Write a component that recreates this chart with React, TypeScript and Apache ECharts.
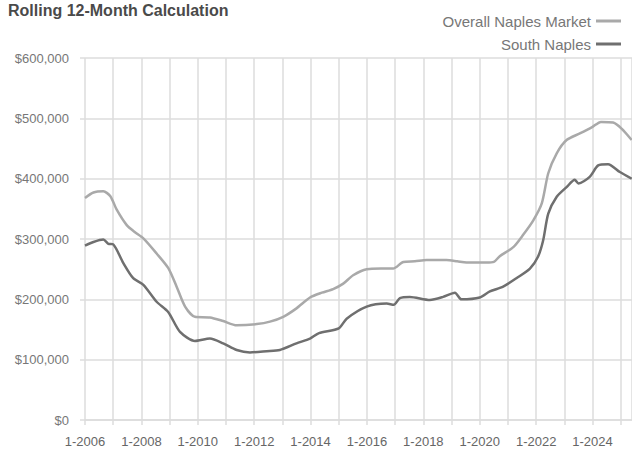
import React, { useEffect, useRef } from "react";
import * as echarts from "echarts";

const titleText = "Rolling 12-Month Calculation";
const seriesNames = ["Overall Naples Market", "South Naples"];

// Overall Naples Market: [year (fractional), rolling 12-month value]
const overallYears = [
  2006.0, 2006.3, 2006.65, 2006.9, 2007.12, 2007.48, 2007.75, 2008.07, 2008.54, 2008.95,
  2009.25, 2009.55, 2009.9, 2010.43, 2010.9, 2011.38, 2012.09, 2012.56, 2013.03, 2013.5,
  2013.98, 2014.4, 2014.8, 2015.16, 2015.51, 2015.99, 2016.5, 2016.93, 2017.29, 2017.7,
  2018.11, 2018.82, 2019.2, 2019.53, 2019.9, 2020.24, 2020.5, 2020.7, 2021.2, 2021.54,
  2021.9, 2022.2, 2022.43, 2022.73, 2023.08, 2023.55, 2024.0, 2024.3, 2024.73, 2025.03,
  2025.39,
];
const overallValues = [
  368000, 377000, 379000, 371000, 349000, 323000, 312000, 301000, 276000, 252000,
  221000, 188000, 171000, 170000, 164000, 157000, 159000, 163000, 171000, 185000,
  203000, 211000, 217000, 226000, 240000, 250000, 251000, 251000, 262000, 263000,
  265000, 265000, 263000, 261000, 261000, 261000, 262000, 271000, 287000, 307000,
  331000, 359000, 409000, 442000, 464000, 475000, 486000, 494000, 493000, 483000,
  464000,
];

// South Naples
const southYears = [
  2006.0, 2006.3, 2006.65, 2006.83, 2007.0, 2007.36, 2007.71, 2008.07, 2008.54, 2008.95,
  2009.37, 2009.9, 2010.43, 2010.9, 2011.38, 2011.85, 2012.44, 2012.91, 2013.5, 2013.98,
  2014.3, 2015.0, 2015.28, 2015.99, 2016.7, 2016.95, 2017.17, 2017.52, 2018.23, 2018.7,
  2019.12, 2019.35, 2020.0, 2020.36, 2020.83, 2021.3, 2021.78, 2022.07, 2022.25, 2022.43,
  2022.73, 2023.08, 2023.37, 2023.5, 2023.9, 2024.2, 2024.55, 2024.97, 2025.39,
];
const southValues = [
  289000, 295000, 299000, 292000, 291000, 260000, 235000, 224000, 196000, 179000,
  146000, 131000, 135000, 127000, 116000, 112000, 114000, 116000, 127000, 135000,
  144000, 152000, 168000, 188000, 193000, 191000, 202000, 204000, 199000, 204000,
  211000, 200000, 203000, 213000, 221000, 235000, 251000, 271000, 298000, 342000,
  370000, 386000, 398000, 392000, 403000, 422000, 424000, 411000, 400000,
];

const colors = ["#a9a9a9", "#6f6f6f"];

function pairs(xs: number[], ys: number[]) {
  return xs.map((x, i) => [x, ys[i]]);
}

export default function App() {
  const ref = useRef<HTMLDivElement>(null);
  useEffect(() => {
    if (!ref.current) return;
    const chart = echarts.init(ref.current, null, { renderer: "svg" });
    const gridColor = "#dcdcdc";
    chart.setOption({
      animation: false,
      backgroundColor: "#ffffff",
      title: {
        text: titleText,
        left: 8,
        top: 2,
        padding: 0,
        textStyle: {
          fontFamily: "Liberation Sans, Arial, sans-serif",
          fontSize: 16,
          fontWeight: "bold",
          color: "#4a4a4a",
        },
      },
      legend: {
        orient: "vertical",
        right: 6,
        top: 8,
        align: "right",
        itemGap: 7,
        itemWidth: 25,
        itemHeight: 3,
        icon: "rect",
        data: seriesNames,
        textStyle: {
          fontFamily: "Liberation Sans, Arial, sans-serif",
          fontSize: 15,
          color: "#777777",
          lineHeight: 16,
        },
      },
      grid: { left: 85, right: 0, top: 58, bottom: 30 },
      xAxis: {
        type: "value",
        min: 2006,
        max: 2025.4,
        interval: 1,
        axisLine: { show: true, lineStyle: { color: gridColor, width: 1.5 } },
        axisTick: { show: true, length: 5, lineStyle: { color: gridColor, width: 1.5 } },
        splitLine: { show: true, lineStyle: { color: gridColor, width: 1.5 } },
        axisLabel: {
          margin: 15,
          fontFamily: "Liberation Sans, Arial, sans-serif",
          fontSize: 13,
          color: "#666666",
          showMaxLabel: false,
          formatter: (v: number) => {
            const r = Math.round(v);
            return Math.abs(v - r) < 1e-6 && r % 2 === 0 ? `1-${r}` : "";
          },
        },
      },
      yAxis: {
        type: "value",
        min: 0,
        max: 600000,
        interval: 100000,
        axisLine: { show: false },
        axisTick: { show: true, length: 5, lineStyle: { color: gridColor, width: 1.5 } },
        splitLine: { show: true, lineStyle: { color: gridColor, width: 1.5 } },
        axisLabel: {
          margin: 16,
          fontFamily: "Liberation Sans, Arial, sans-serif",
          fontSize: 13,
          color: "#777777",
          formatter: (v: number) => "$" + v.toLocaleString("en-US"),
        },
      },
      series: [
        {
          name: seriesNames[0],
          type: "line",
          data: pairs(overallYears, overallValues),
          showSymbol: false,
          symbol: "none",
          smooth: 0.25,
          lineStyle: { color: colors[0], width: 2.5 },
          itemStyle: { color: colors[0] },
        },
        {
          name: seriesNames[1],
          type: "line",
          data: pairs(southYears, southValues),
          showSymbol: false,
          symbol: "none",
          smooth: 0.25,
          lineStyle: { color: colors[1], width: 2.5 },
          itemStyle: { color: colors[1] },
        },
      ],
    });
    return () => chart.dispose();
  }, []);
  return (
    <div
      ref={ref}
      style={{ position: "absolute", left: 0, top: 0, width: 632, height: 450 }}
    />
  );
}
